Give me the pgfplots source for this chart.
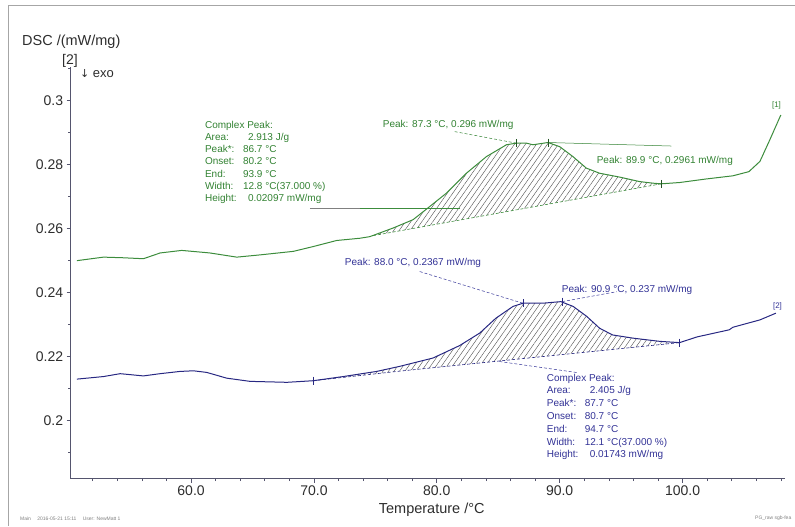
\documentclass[border=0pt]{standalone}
\usepackage{fontspec}
\setmainfont{Liberation Sans}
\newfontfamily\djv{DejaVu Sans}
\usepackage{pgfplots}
\pgfplotsset{compat=1.18}
\usepgfplotslibrary{fillbetween}
\usetikzlibrary{patterns.meta}
\definecolor{gcurve}{RGB}{60,140,60}
\definecolor{gtext}{RGB}{50,130,50}
\definecolor{bcurve}{RGB}{40,40,130}
\definecolor{btext}{RGB}{50,50,150}
\definecolor{axc}{RGB}{85,85,110}
\definecolor{txt}{RGB}{45,45,45}
\newcommand\pxc[2]{({(#1-70.7)*1pt},{(479-#2)*1pt})}
\begin{document}
\begin{tikzpicture}
\begin{axis}[
 at={(0,0)}, anchor=south west,
 scale only axis, width=714.3pt, height=412pt,
 xmin=50.2, xmax=108.3, ymin=0.1819, ymax=0.3105,
 axis x line=bottom, axis y line=left,
 axis line style={axc, line width=0.9pt, -},
 xtick={60,70,80,90,100}, minor xtick={52,54,...,108},
 ytick={0.2,0.22,0.24,0.26,0.28,0.3}, minor ytick={0.19,0.21,0.23,0.25,0.27,0.29,0.31},
 scaled y ticks=false, scaled x ticks=false,
 tick align=outside, major tick length=4pt, minor tick length=2.5pt,
 every tick/.style={axc, line width=0.6pt},
 x tick label style={/pgf/number format/fixed, /pgf/number format/fixed zerofill, /pgf/number format/precision=1},
 y tick label style={/pgf/number format/fixed, /pgf/number format/precision=2},
 /pgf/number format/assume math mode=true,
 tick label style={font=\fontsize{14}{16}\selectfont, text=txt},
 clip=false,
]
% green curve [1]
\addplot[gcurve, line width=1pt, name path=G] coordinates {
(50.71,0.2500) (52.87,0.2511) (54.5,0.2509) (56.12,0.2506) (57.48,0.2524) (59.24,0.2532)
(61.54,0.2524) (63.72,0.2511) (65.61,0.2518) (68.32,0.2529) (69.94,0.2544) (71.85,0.2563)
(73.74,0.2570) (74.55,0.2575) (76.45,0.2602) (78.07,0.2628) (79.16,0.2661) (80.79,0.2711)
(82.41,0.2773) (84.04,0.2825) (85.67,0.2862) (86.48,0.2867) (87.29,0.2867) (87.83,0.2862)
(89.05,0.2869) (90.0,0.2856) (91.08,0.2825) (92.17,0.2789) (93.25,0.2773) (94.88,0.2761)
(96.5,0.2747) (97.59,0.2742) (98.27,0.2740) (99.76,0.2744) (101.9,0.2755) (104.1,0.2765)
(105.4,0.2778) (106.3,0.2810) (107.1,0.2877) (107.7,0.2929) (108.0,0.2955)};
\addplot[gcurve, densely dashed, line width=0.6pt, name path=GB] coordinates {(74.8,0.2578) (98.27,0.2740)};
\addplot[pattern={Lines[angle=55,distance=4.5pt,line width=0.4pt]}, pattern color=gray!60!black, draw=none]
  fill between[of=G and GB, soft clip={domain=74.8:98.27}];
% blue curve [2]
\addplot[bcurve, line width=1pt, name path=B] coordinates {
(50.71,0.2130) (52.87,0.2138) (54.23,0.2147) (56.12,0.2140) (57.48,0.2147) (59.1,0.2154)
(60.19,0.2156) (61.27,0.2151) (62.9,0.2133) (64.8,0.2123) (67.8,0.2120) (69.94,0.2125)
(72.38,0.2138) (75.1,0.2154) (77.0,0.2170) (79.7,0.2196) (81.87,0.2235) (83.5,0.2274)
(84.8,0.2320) (86.2,0.2357) (87.0,0.2367) (88.6,0.2367) (90.1,0.2372) (91.1,0.2357)
(92.2,0.2326) (93.25,0.2289) (94.3,0.2268) (95.96,0.2258) (98.13,0.2248) (99.76,0.2244)
(101.2,0.2262) (103.8,0.2284) (104.1,0.2292) (106.3,0.2315) (107.6,0.2336)};
\addplot[bcurve, densely dashed, line width=0.6pt, name path=BB] coordinates {(69.94,0.2125) (77.0,0.2155) (99.76,0.2244)};
\addplot[pattern={Lines[angle=55,distance=4.5pt,line width=0.4pt]}, pattern color=gray!60!black, draw=none]
  fill between[of=B and BB, soft clip={domain=69.94:99.76}];
% markers
\addplot[only marks, mark=|, mark size=4pt, gcurve!60!black] coordinates {(86.48,0.2867) (89.05,0.2869) (98.27,0.2740)};
\addplot[only marks, mark=|, mark size=4pt, bcurve] coordinates {(87.0,0.2367) (90.2,0.2372) (69.94,0.2125) (99.76,0.2244)};
% leader lines
\draw[gtext, densely dashed, line width=0.5pt] (axis cs:81.46,0.2903) -- (axis cs:86.48,0.2867);
\draw[gtext, line width=0.5pt] (axis cs:89.05,0.2869) -- (axis cs:99.1,0.2858);
\draw[gray, line width=1pt] (axis cs:69.67,0.2663) -- (axis cs:73.74,0.2663);
\draw[gcurve, line width=0.5pt] (axis cs:73.74,0.2663) -- (axis cs:81.87,0.2663);
\draw[btext, densely dashed, line width=0.5pt] (axis cs:78.61,0.2466) -- (axis cs:87.0,0.2367);
\draw[btext, densely dashed, line width=0.5pt] (axis cs:90.2,0.2372) -- (axis cs:94.63,0.2403);
\draw[btext, densely dashed, line width=0.5pt] (axis cs:85.1,0.2185) -- (axis cs:91.5,0.2150);
\end{axis}
\draw[gray!70, line width=1pt] (-61.7pt,-47pt) -- (-61.7pt,473pt) -- (724.3pt,473pt);
% axis texts
\node[anchor=west, text=txt, font=\fontsize{14.5}{16}\selectfont, inner sep=0] at \pxc{22}{42} {DSC /(mW/mg)};
\node[text=txt, font=\fontsize{14}{16}\selectfont, inner sep=0] at \pxc{70}{61} {[2]};
\node[anchor=west, text=txt, font=\fontsize{13}{15}\selectfont, inner sep=0] at \pxc{80}{74} {{\djv\fontsize{11}{13}\selectfont ↓} exo};
\node[text=txt, font=\fontsize{14.5}{16}\selectfont, inner sep=0] at \pxc{432}{510} {Temperature /°C};
\node[anchor=west, text=gray, font=\fontsize{5}{6}\selectfont, inner sep=0] at \pxc{20}{519} {Main \quad 2016-05-21 15:11 \quad User: NewMatt 1};
\node[anchor=east, text=gray, font=\fontsize{5}{6}\selectfont, inner sep=0] at \pxc{792}{519} {PG\_raw sgb-fea};
% curve tags
\node[text=gtext, font=\fontsize{8}{9}\selectfont, inner sep=0] at \pxc{777}{106} {[1]};
\node[text=btext, font=\fontsize{8}{9}\selectfont, inner sep=0] at \pxc{778}{307} {[2]};
% peak labels
\node[anchor=west, text=gtext, font=\fontsize{10}{12}\selectfont, inner sep=0] at \pxc{383}{125} {Peak: 87.3 °C, 0.296 mW/mg};
\node[anchor=west, text=gtext, font=\fontsize{10}{12}\selectfont, inner sep=0] at \pxc{597}{161} {Peak: 89.9 °C, 0.2961 mW/mg};
\node[anchor=west, text=btext, font=\fontsize{10}{12}\selectfont, inner sep=0] at \pxc{345}{263} {Peak: 88.0 °C, 0.2367 mW/mg};
\node[anchor=west, text=btext, font=\fontsize{10}{12}\selectfont, inner sep=0] at \pxc{562}{290} {Peak: 90.9 °C, 0.237 mW/mg};
% complex peak boxes
\node[anchor=north west, text=gtext, font=\fontsize{10}{12.2}\selectfont, align=left, inner sep=0] at \pxc{205}{121} {%
Complex Peak:\\
\makebox[38pt][l]{Area:}\hspace{5pt}2.913 J/g\\
\makebox[38pt][l]{Peak*:}86.7 °C\\
\makebox[38pt][l]{Onset:}80.2 °C\\
\makebox[38pt][l]{End:}93.9 °C\\
\makebox[38pt][l]{Width:}12.8 °C(37.000 \%)\\
\makebox[38pt][l]{Height:}\hspace{5pt}0.02097 mW/mg};
\node[anchor=north west, text=btext, font=\fontsize{10}{12.8}\selectfont, align=left, inner sep=0] at \pxc{547}{374} {%
Complex Peak:\\
\makebox[38pt][l]{Area:}\hspace{5pt}2.405 J/g\\
\makebox[38pt][l]{Peak*:}87.7 °C\\
\makebox[38pt][l]{Onset:}80.7 °C\\
\makebox[38pt][l]{End:}94.7 °C\\
\makebox[38pt][l]{Width:}12.1 °C(37.000 \%)\\
\makebox[38pt][l]{Height:}\hspace{5pt}0.01743 mW/mg};
\path[use as bounding box] (-70.7pt,-47pt) rectangle (724.3pt,479pt);
\end{tikzpicture}
\end{document}
